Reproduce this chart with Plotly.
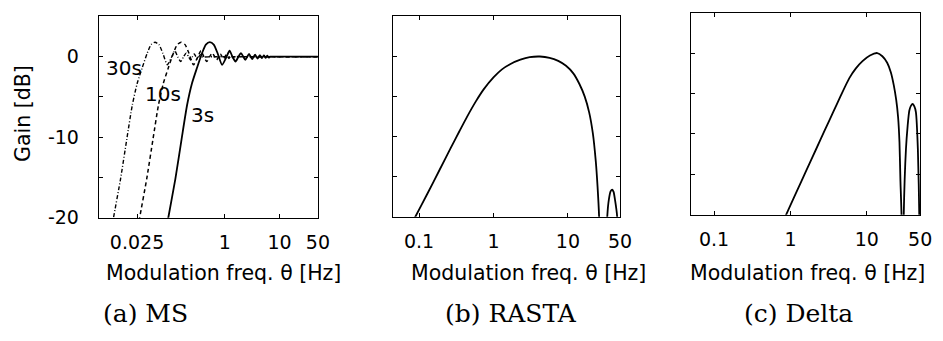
import plotly.graph_objects as go

# ---------------- data ----------------
# (a) MS : mean subtraction with 30 s, 10 s and 3 s windows
ms30_freq = [0.0082, 0.0093, 0.0125, 0.0163, 0.0205, 0.0252, 0.031, 0.0382, 0.0451, 0.0532,
             0.0628, 0.0741, 0.0893, 0.1077, 0.122, 0.138, 0.157, 0.177, 0.197, 0.218,
             0.237, 0.257, 0.277, 0.297, 0.317, 0.337, 0.357, 0.377, 0.6, 50]
ms30_gain = [-22.1, -20.0, -15.2, -10.2, -6.0, -3.3, -1.4, 0.4, 1.5, 1.8,
             1.5, 0.4, -1.0, 0.0, 0.75, 0.0, -0.6, 0.0, 0.45, 0.0,
             -0.4, 0.0, 0.35, 0.0, -0.3, 0.0, 0.25, 0.0, 0.0, 0.0]

ms10_freq = [0.0247, 0.0279, 0.0375, 0.049, 0.0615, 0.0756, 0.093, 0.1146, 0.1353, 0.1596,
             0.1884, 0.2223, 0.268, 0.323, 0.366, 0.414, 0.47, 0.53, 0.59, 0.655,
             0.71, 0.77, 0.83, 0.89, 0.95, 1.01, 1.07, 1.13, 1.19, 1.25,
             1.31, 1.37, 1.43, 1.49, 2.0, 50]
ms10_gain = [-22.1, -20.0, -15.2, -10.2, -6.0, -3.3, -1.4, 0.4, 1.5, 1.8,
             1.5, 0.4, -1.0, 0.0, 0.75, 0.0, -0.6, 0.0, 0.45, 0.0,
             -0.4, 0.0, 0.35, 0.0, -0.3, 0.0, 0.25, 0.0, -0.22, 0.0,
             0.2, 0.0, -0.18, 0.0, 0.0, 0.0]

ms3_freq = [0.0823, 0.093, 0.125, 0.163, 0.205, 0.252, 0.31, 0.382, 0.451, 0.532,
            0.628, 0.741, 0.893, 1.077, 1.22, 1.38, 1.57, 1.77, 1.97, 2.18,
            2.37, 2.57, 2.77, 2.97, 3.17, 3.37, 3.57, 3.77, 3.97, 4.17,
            4.37, 4.57, 4.77, 4.97, 5.17, 5.37, 5.57, 5.77, 5.97, 6.17,
            6.37, 6.57, 7.0, 50]
ms3_gain = [-22.1, -20.0, -15.2, -10.2, -6.0, -3.3, -1.4, 0.4, 1.5, 1.8,
            1.5, 0.4, -1.0, 0.0, 0.75, 0.0, -0.6, 0.0, 0.45, 0.0,
            -0.4, 0.0, 0.35, 0.0, -0.3, 0.0, 0.25, 0.0, -0.22, 0.0,
            0.2, 0.0, -0.18, 0.0, 0.16, 0.0, -0.15, 0.0, 0.13, 0.0,
            -0.12, 0.0, 0.0, 0.0]

# (b) RASTA
rasta_freq = [0.075, 0.0893, 0.130, 0.19, 0.267, 0.35, 0.443, 0.58, 0.738, 1.0,
              1.3, 1.67, 2.3, 3.07, 4.2, 5.67, 7.4, 9.42, 11.8, 14.2,
              16.8, 19.3, 21.6, 23.6, 25.0, 26.2, 29.5, 33.7, 35.5, 37.5,
              39.3, 41.0, 42.7, 45.8, 49.0]
rasta_gain = [-21.4, -20.0, -17.1, -14.1, -11.4, -9.3, -7.5, -5.6, -4.1, -2.6,
              -1.6, -0.96, -0.4, -0.08, 0.0, -0.16, -0.55, -1.16, -2.1, -3.4,
              -5.0, -7.0, -9.6, -13.0, -16.3, -20.0, -40.0, -20.0, -17.8, -16.8,
              -16.6, -16.9, -17.8, -20.0, -40.0]

# (c) Delta
delta_freq = [0.75, 0.877, 1.21, 1.6, 2.19, 2.8, 3.59, 4.6, 5.91, 7.2,
              8.79, 11.0, 13.7, 16.0, 18.5, 20.7, 22.6, 24.3, 25.7, 26.8,
              27.6, 28.5, 29.5, 30.5, 32.6, 34.3, 36.1, 38.0, 39.9, 42.0,
              44.0, 46.7, 48.7, 49.6]
delta_gain = [-21.4, -20.0, -17.1, -14.6, -11.8, -9.6, -7.4, -5.2, -3.1, -1.9,
              -1.0, -0.3, 0.0, -0.4, -1.2, -2.4, -4.0, -5.8, -7.9, -11.0,
              -15.8, -20.0, -40.0, -20.0, -11.9, -9.0, -7.1, -6.5, -6.3, -6.6,
              -7.3, -11.9, -20.0, -40.0]

ms_ticks = [0.025, 1, 10, 50]
ms_ticktext = ["0.025", "1", "10", "50"]
bc_ticks = [0.1, 1, 10, 50]
bc_ticktext = ["0.1", "1", "10", "50"]
gain_ticks = [-20, -15, -10, -5, 0]
gain_ticktext = ["-20", "", "-10", "", "0"]
gain_blank = ["", "", "", "", ""]

curve_labels = ["30s", "10s", "3s"]
xtitle = "Modulation freq. θ [Hz]"
ytitle = "Gain [dB]"
captions = ["(a) MS", "(b) RASTA", "(c) Delta"]

# ---------------- figure ----------------
W, H = 943, 341
SANS = "DejaVu Sans"
SERIF = "DejaVu Serif"


def px(x):
    return x / W


def py(y):
    return 1 - y / H


fig = go.Figure()

solid_w = 1.8
fig.add_trace(go.Scatter(x=ms30_freq, y=ms30_gain, xaxis="x", yaxis="y", mode="lines",
                         line=dict(color="black", width=1.4, dash="4px,2px,1px,2px", shape="spline", smoothing=0.6)))
fig.add_trace(go.Scatter(x=ms10_freq, y=ms10_gain, xaxis="x", yaxis="y", mode="lines",
                         line=dict(color="black", width=1.5, dash="4px,3px", shape="spline", smoothing=0.6)))
fig.add_trace(go.Scatter(x=ms3_freq, y=ms3_gain, xaxis="x", yaxis="y", mode="lines",
                         line=dict(color="black", width=solid_w, shape="spline", smoothing=0.6)))
fig.add_trace(go.Scatter(x=rasta_freq, y=rasta_gain, xaxis="x2", yaxis="y2", mode="lines",
                         line=dict(color="black", width=solid_w, shape="spline", smoothing=0.6)))
fig.add_trace(go.Scatter(x=delta_freq, y=delta_gain, xaxis="x3", yaxis="y3", mode="lines",
                         line=dict(color="black", width=solid_w, shape="spline", smoothing=0.6)))

tickfont = dict(family=SANS, size=19, color="black")


def xax(domain, rng, vals, texts, anchor):
    return dict(type="log", domain=domain, range=rng, tickmode="array", tickvals=vals,
                ticktext=texts, ticks="inside", ticklen=4, tickwidth=1, tickcolor="black",
                showline=True, linecolor="black", linewidth=1, mirror="ticks",
                showgrid=False, zeroline=False, tickfont=tickfont, anchor=anchor,
                ticklabelstandoff=7)


def yax(domain, texts, anchor):
    return dict(domain=domain, range=[-20, 5], tickmode="array", tickvals=gain_ticks,
                ticktext=texts, ticks="inside", ticklen=4, tickwidth=1, tickcolor="black",
                showline=True, linecolor="black", linewidth=1, mirror="ticks",
                showgrid=False, zeroline=False, tickfont=tickfont, anchor=anchor,
                ticklabelstandoff=15)


fig.update_layout(
    width=W, height=H, margin=dict(l=0, r=0, t=0, b=0),
    paper_bgcolor="white", plot_bgcolor="white", showlegend=False,
    xaxis=xax([px(100), px(322)], [-2.301, 1.699], ms_ticks, ms_ticktext, "y"),
    yaxis=yax([py(225), py(17)], gain_ticktext, "x"),
    xaxis2=xax([px(398), px(628)], [-1.35, 1.699], bc_ticks, bc_ticktext, "y2"),
    yaxis2=yax([py(224), py(17)], gain_blank, "x2"),
    xaxis3=xax([px(700), px(932)], [-1.301, 1.699], bc_ticks, bc_ticktext, "y3"),
    yaxis3=yax([py(222), py(13)], gain_blank, "x3"),
)

ann = []
for txt, (x, y) in zip(curve_labels, [(126, 70), (165, 97), (205, 119)]):
    ann.append(dict(text=txt, x=px(x), y=py(y), xref="paper", yref="paper", showarrow=False,
                    xanchor="center", yanchor="middle", font=dict(family=SANS, size=20, color="black")))
for x in [226, 535, 818]:
    ann.append(dict(text=xtitle, x=px(x), y=py(282), xref="paper", yref="paper", showarrow=False,
                    xanchor="center", yanchor="middle", font=dict(family=SANS, size=20.5, color="black")))
ann.append(dict(text=ytitle, x=px(24), y=py(117), xref="paper", yref="paper", showarrow=False,
                textangle=-90, xanchor="center", yanchor="middle",
                font=dict(family=SANS, size=20.5, color="black")))
for txt, x in zip(captions, [147, 518, 809]):
    ann.append(dict(text=txt, x=px(x), y=py(324), xref="paper", yref="paper", showarrow=False,
                    xanchor="center", yanchor="middle", font=dict(family=SERIF, size=25, color="black")))
fig.update_layout(annotations=ann)

fig.write_html("out.html")
